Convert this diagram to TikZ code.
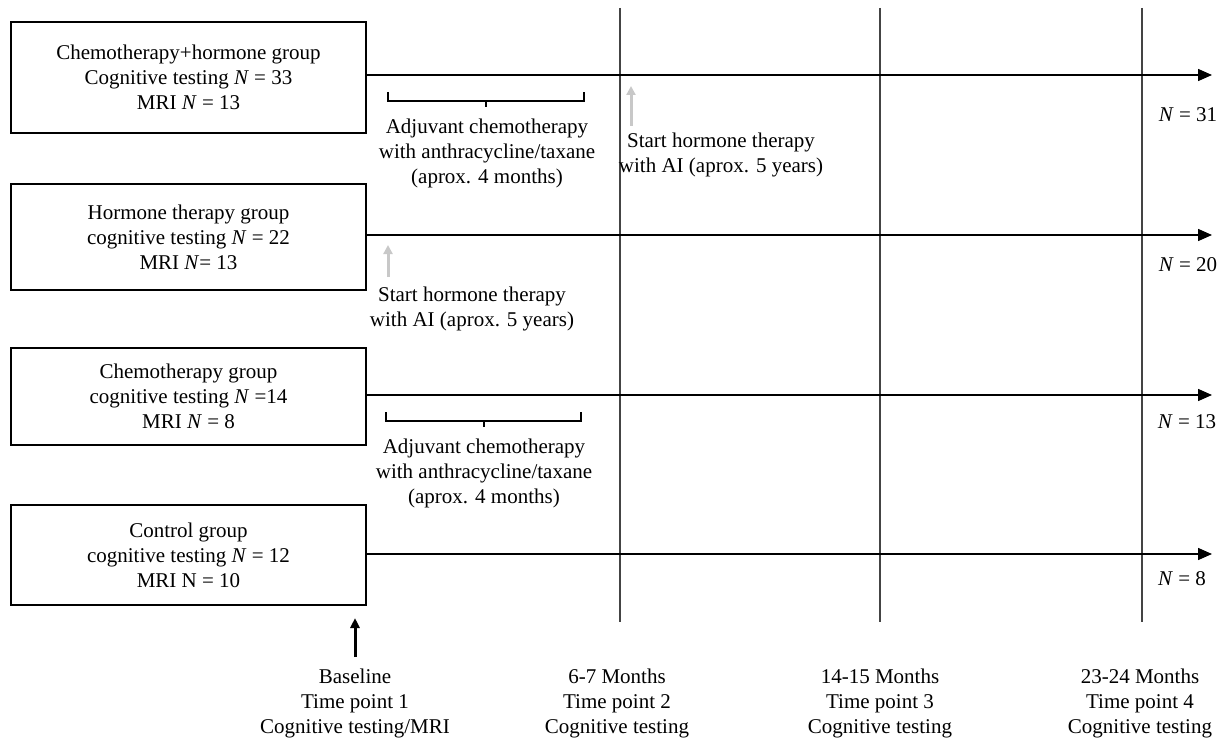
\documentclass[tikz,border=0pt]{standalone}
\usepackage{fontspec}
\setmainfont{Liberation Serif}
\usetikzlibrary{arrows.meta}
\definecolor{vline}{HTML}{444444}
\definecolor{lightarrow}{HTML}{C8C8C8}
\tikzset{
  groupbox/.style={draw=black, line width=1.3pt, minimum width=355pt, inner sep=2pt, align=center, font=\fontsize{21}{25}\selectfont},
  lbl/.style={align=center, inner sep=0pt, font=\fontsize{21}{25}\selectfont},
  timeline/.style={line width=1.5pt, -{Triangle[length=14pt,width=12pt]}},
  tpline/.style={draw=vline, line width=1.4pt},
  hormarrow/.style={draw=lightarrow, line width=3pt, -{Triangle[length=9pt,width=9pt]}},
  basearrow/.style={draw=black, line width=3pt, -{Triangle[length=10pt,width=9pt]}},
  bracket/.style={draw=black, line width=1.2pt},
}
\begin{document}
\begin{tikzpicture}[x=1pt,y=-1pt]
\useasboundingbox (0,0) rectangle (1224,741);
% group boxes
\node[groupbox, minimum height=111pt] (b1) at (188.5,77.5) {Chemotherapy+hormone group\\Cognitive testing \textit{N} = 33\\MRI \textit{N} = 13};
\node[groupbox, minimum height=106pt] (b2) at (188.5,237) {Hormone therapy group\\cognitive testing \textit{N} = 22\\MRI \textit{N}= 13};
\node[groupbox, minimum height=97pt] (b3) at (188.5,396.5) {Chemotherapy group\\cognitive testing \textit{N} =14\\MRI \textit{N} = 8};
\node[groupbox, minimum height=100pt] (b4) at (188.5,555) {Control group\\cognitive testing \textit{N} = 12\\MRI N = 10};
% timeline ends
\coordinate (e1) at (1212,75);
\coordinate (e2) at (1212,235);
\coordinate (e3) at (1212,395);
\coordinate (e4) at (1212,554);
% time point vertical lines
\coordinate (v2t) at (620,8);  \coordinate (v2b) at (620,622);
\coordinate (v3t) at (880,8);  \coordinate (v3b) at (880,622);
\coordinate (v4t) at (1142,8); \coordinate (v4b) at (1142,622);
\draw[tpline] (v2t) -- (v2b);
\draw[tpline] (v3t) -- (v3b);
\draw[tpline] (v4t) -- (v4b);
% timelines
\draw[timeline] (b1.east |- e1) -- (e1);
\draw[timeline] (b2.east |- e2) -- (e2);
\draw[timeline] (b3.east |- e3) -- (e3);
\draw[timeline] (b4.east |- e4) -- (e4);
% final N labels
\node[lbl] (n1) at (1188,115) {\textit{N} = 31};
\node[lbl] (n2) at (1188,265) {\textit{N} = 20};
\node[lbl] (n3) at (1187,422) {\textit{N} = 13};
\node[lbl] (n4) at (1182,579) {\textit{N} = 8};
% brackets for chemotherapy
\coordinate (k1a) at (388,92); \coordinate (k1b) at (584,92); \coordinate (k1c) at (486,101);
\draw[bracket] (k1a) -- (k1a |- k1c) -- (k1b |- k1c) -- (k1b);
\draw[bracket] (k1c) -- ++(0,6);
\node[lbl] (c1) at (487,153) {Adjuvant chemotherapy\\with anthracycline/taxane\\(aprox. 4 months)};
\coordinate (k2a) at (386,412); \coordinate (k2b) at (581,412); \coordinate (k2c) at (484,421);
\draw[bracket] (k2a) -- (k2a |- k2c) -- (k2b |- k2c) -- (k2b);
\draw[bracket] (k2c) -- ++(0,6);
\node[lbl] (c2) at (484,473) {Adjuvant chemotherapy\\with anthracycline/taxane\\(aprox. 4 months)};
% hormone therapy starts
\coordinate (h1s) at (631,126); \coordinate (h1e) at (631,86);
\draw[hormarrow] (h1s) -- (h1e);
\node[lbl] (ht1) at (721,155) {Start hormone therapy\\with AI (aprox. 5 years)};
\coordinate (h2s) at (388,277); \coordinate (h2e) at (388,245);
\draw[hormarrow] (h2s) -- (h2e);
\node[lbl] (ht2) at (472,309) {Start hormone therapy\\with AI (aprox. 5 years)};
% time point labels
\node[lbl, anchor=north] (tp1) at (355,669) {Baseline\\Time point 1\\Cognitive testing/MRI};
\node[lbl, anchor=north] (tp2) at (617,669) {6-7 Months\\Time point 2\\Cognitive testing};
\node[lbl, anchor=north] (tp3) at (880,669) {14-15 Months\\Time point 3\\Cognitive testing};
\node[lbl, anchor=north] (tp4) at (1140,669) {23-24 Months\\Time point 4\\Cognitive testing};
\coordinate (ba) at (355,618);
\draw[basearrow] (tp1.north |- 0,657) -- (ba);
\end{tikzpicture}
\end{document}
